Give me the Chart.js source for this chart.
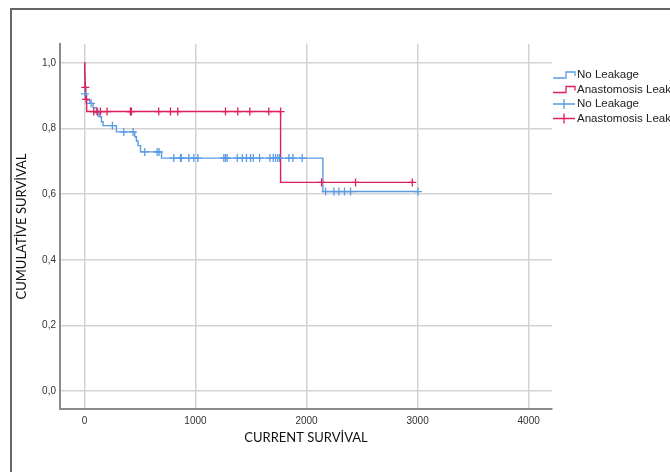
<!DOCTYPE html>
<html>
<head>
<meta charset="utf-8">
<script src="https://cdn.jsdelivr.net/npm/chart.js@4.4.1/dist/chart.umd.min.js"></script>
<style>
  html, body { margin:0; padding:0; background:#fff; overflow:hidden; }
  #wrap { position:relative; width:670px; height:472px; overflow:hidden; }
  #frame { position:absolute; left:10px; top:8px; width:720px; height:520px; border:2px solid #666; box-sizing:border-box; }
  #km { position:absolute; left:0; top:0; }
</style>
</head>
<body>
<div id="wrap">
  <div id="frame"></div>
  <canvas id="km" width="670" height="472"></canvas>
</div>
<script>
// series names / ticks
const seriesNames = ['No Leakage', 'Anastomosis Leakage'];
const xTicks = [0, 1000, 2000, 3000, 4000];
const yTicks = [0, 0.2, 0.4, 0.6, 0.8, 1.0];

// Kaplan-Meier steps, No Leakage
const blueTimes = [0, 2, 4, 8, 12, 20, 48, 78, 108, 132, 153, 168, 288, 453, 468, 483, 505, 694, 2147, 3003];
const blueSurv  = [1.0, 0.97, 0.94, 0.92, 0.90, 0.887, 0.877, 0.864, 0.849, 0.836, 0.821, 0.809, 0.790, 0.775, 0.762, 0.748, 0.729, 0.710, 0.608, 0.608];

// Kaplan-Meier steps, Anastomosis Leakage
const redTimes = [0, 3, 6, 10, 20, 1766, 2960];
const redSurv  = [1.0, 0.963, 0.926, 0.889, 0.852, 0.636, 0.636];

// censored cases (+)
const blueCensorTimes = [5, 60, 120, 252, 354, 438, 543, 655, 672,
  805, 865, 872, 940, 985, 1021, 1255, 1270, 1285, 1376, 1421, 1459, 1495, 1520, 1577,
  1670, 1700, 1721, 1741, 1757, 1841, 1877, 1961,
  2171, 2246, 2291, 2342, 2396, 3003];
const blueCensorSurv = [0.906, 0.877, 0.849, 0.809, 0.790, 0.790, 0.729, 0.729, 0.729,
  0.710, 0.710, 0.710, 0.710, 0.710, 0.710, 0.710, 0.710, 0.710, 0.710, 0.710, 0.710, 0.710, 0.710, 0.710,
  0.710, 0.710, 0.710, 0.710, 0.710, 0.710, 0.710, 0.710,
  0.608, 0.608, 0.608, 0.608, 0.608, 0.608];

const redCensorTimes = [8, 15, 84, 114, 144, 204, 414, 423, 669, 775, 840, 1270, 1381, 1489, 1660, 1766, 2135, 2441, 2952];
const redCensorSurv  = [0.926, 0.889, 0.852, 0.852, 0.852, 0.852, 0.852, 0.852, 0.852, 0.852, 0.852, 0.852, 0.852, 0.852, 0.852, 0.852, 0.636, 0.636, 0.636];

const blue = '#5b9be4';
const red = '#df1f57';

function toPoints(xs, ys) {
  return xs.map((x, i) => ({ x: x, y: ys[i] }));
}

// SPSS style legend on the right side
const kmLegend = {
  id: 'kmLegend',
  afterDraw: function(chart) {
    const ctx = chart.ctx;
    const rows = [75, 89.5, 104, 118.5];
    const cols = [blue, red, blue, red];
    ctx.save();
    ctx.lineWidth = 1.3;
    ctx.font = '11.5px "Liberation Sans", Arial, sans-serif';
    ctx.textBaseline = 'middle';
    rows.forEach((y, i) => {
      ctx.strokeStyle = cols[i];
      ctx.beginPath();
      if (i < 2) { // step symbol
        ctx.moveTo(553, y + 3); ctx.lineTo(566, y + 3); ctx.lineTo(566, y - 3);
        ctx.lineTo(575, y - 3); ctx.lineTo(575, y + 1);
      } else { // censor symbol
        ctx.moveTo(553, y); ctx.lineTo(575, y);
        ctx.moveTo(564, y - 5); ctx.lineTo(564, y + 5);
      }
      ctx.stroke();
      ctx.fillStyle = '#222';
      ctx.fillText(seriesNames[i % 2], 577, y);
    });
    ctx.restore();
  }
};

const tickFont = { family: '"Liberation Sans", Arial, sans-serif', size: 10 };
const titleFont = { family: 'Lato, "Open Sans", sans-serif', size: 13 };

new Chart(document.getElementById('km'), {
  type: 'line',
  data: {
    datasets: [
      { label: seriesNames[1], type: 'scatter', data: toPoints(redCensorTimes, redCensorSurv),
        borderColor: red, backgroundColor: red, pointStyle: 'cross', pointRadius: 4, borderWidth: 1.3, showLine: false },
      { label: seriesNames[0], type: 'scatter', data: toPoints(blueCensorTimes, blueCensorSurv),
        borderColor: blue, backgroundColor: blue, pointStyle: 'cross', pointRadius: 4, borderWidth: 1.3, showLine: false },
      { label: seriesNames[1], data: toPoints(redTimes, redSurv),
        borderColor: red, borderWidth: 1.4, stepped: true, pointRadius: 0, fill: false },
      { label: seriesNames[0], data: toPoints(blueTimes, blueSurv),
        borderColor: blue, borderWidth: 1.4, stepped: true, pointRadius: 0, fill: false }
    ]
  },
  options: {
    responsive: false,
    animation: false,
    events: [],
    layout: { padding: { left: 0, top: 44, right: 118, bottom: 0 } },
    plugins: { legend: { display: false }, tooltip: { enabled: false } },
    scales: {
      x: {
        type: 'linear', min: -220, max: 4210,
        afterBuildTicks: s => { s.ticks = xTicks.map(v => ({ value: v })); },
        afterFit: s => { s.height = 63; },
        grid: { color: '#d3d3d3', lineWidth: 1.5, drawTicks: false },
        border: { color: '#8c8c8c', width: 2 },
        ticks: { padding: 6, font: tickFont, color: '#333', callback: v => String(v) },
        title: { display: true, text: 'CURRENT SURVİVAL', font: titleFont, color: '#111', padding: { top: 0, bottom: 26 } }
      },
      y: {
        type: 'linear', min: -0.055, max: 1.058,
        afterBuildTicks: s => { s.ticks = yTicks.map(v => ({ value: v })); },
        afterFit: s => { s.width = 60; },
        grid: { color: '#d3d3d3', lineWidth: 1.5, drawTicks: false },
        border: { color: '#8c8c8c', width: 2 },
        ticks: { padding: 4, font: tickFont, color: '#333', callback: v => v.toFixed(1).replace('.', ',') },
        title: { display: true, text: 'CUMULATİVE SURVİVAL', font: titleFont, color: '#111', padding: { top: 14, bottom: 0 } }
      }
    }
  },
  plugins: [kmLegend]
});
</script>
</body>
</html>
